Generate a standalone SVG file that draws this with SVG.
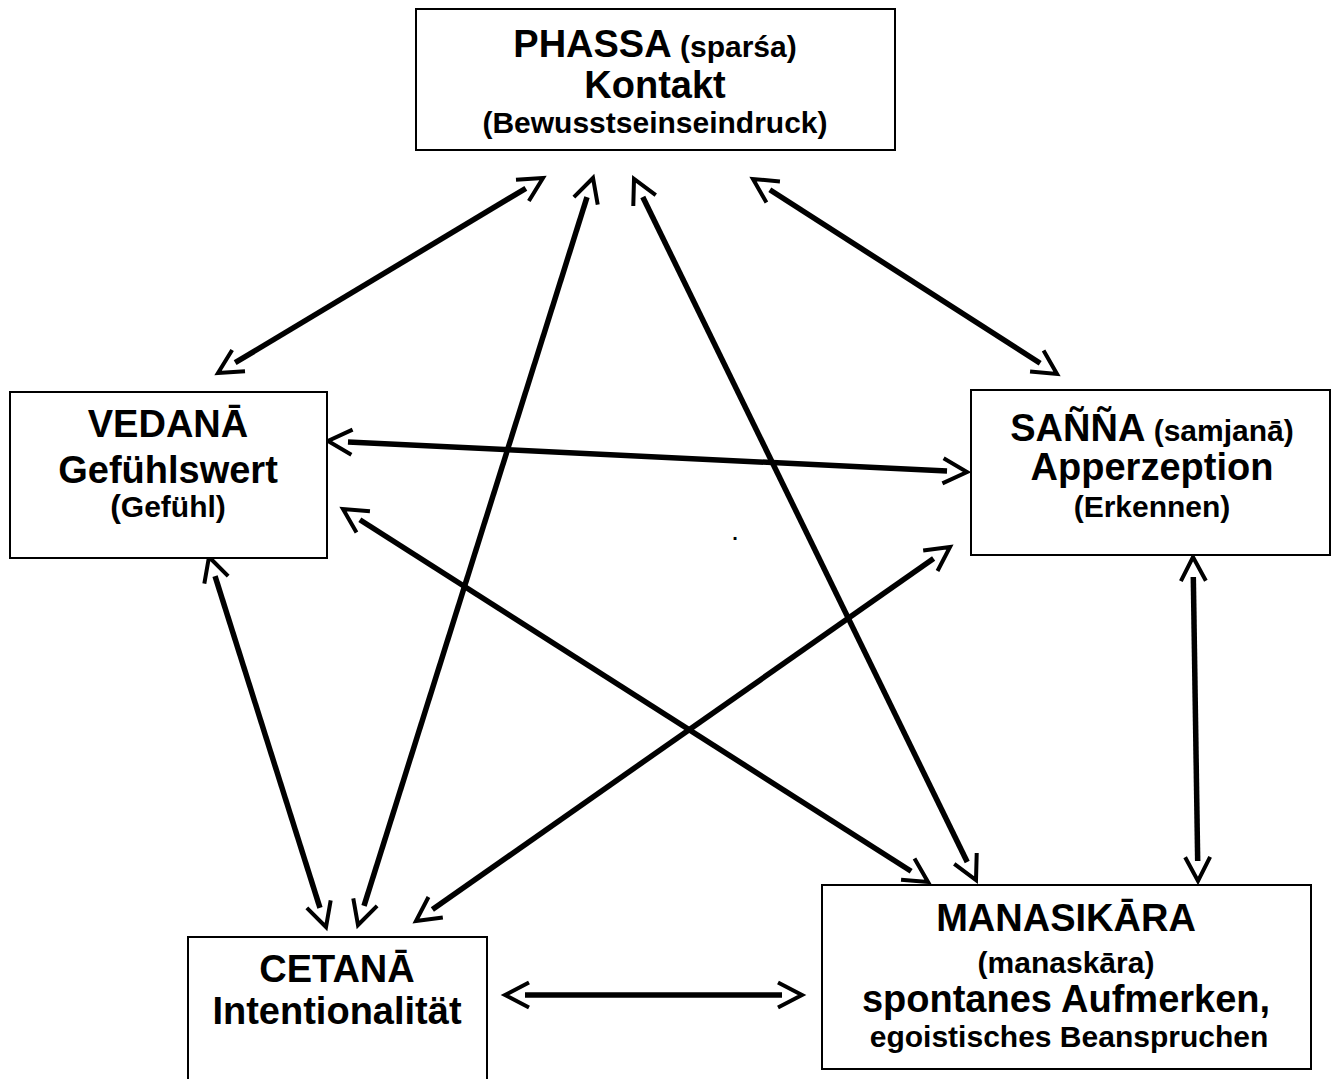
<svg xmlns="http://www.w3.org/2000/svg" width="1334" height="1079" viewBox="0 0 1334 1079">
<style>
.box{fill:#fff;stroke:#000;stroke-width:2}
text{font-family:"Liberation Sans",Arial,sans-serif;font-weight:bold;fill:#000;text-anchor:middle}
.big{font-size:38px}
.sm{font-size:30px}
.conn line{stroke:#000;stroke-width:5.5;marker-start:url(#ah);marker-end:url(#ah)}
</style>
<defs>
<marker id="ah" viewBox="-30 -20 60 40" refX="0" refY="0" markerWidth="60" markerHeight="40" markerUnits="userSpaceOnUse" orient="auto-start-reverse" overflow="visible">
<path d="M -4,-12.5 L 20,0 L -4,12.5" fill="none" stroke="#000" stroke-width="4"/>
</marker>
</defs>
<rect width="1334" height="1079" fill="#fff"/>
<g id="connectors" class="conn">
<line x1="525.85" y1="188.29" x2="235.15" y2="362.71"/>
<line x1="587.0" y1="197.08" x2="364.0" y2="905.92"/>
<line x1="642.77" y1="196.97" x2="967.23" y2="862.03"/>
<line x1="769.83" y1="189.80" x2="1040.17" y2="363.20"/>
<line x1="347.98" y1="441.97" x2="947.02" y2="471.03"/>
<line x1="359.86" y1="519.75" x2="911.14" y2="871.25"/>
<line x1="215.03" y1="576.07" x2="319.97" y2="907.93"/>
<line x1="933.62" y1="558.47" x2="432.38" y2="909.53"/>
<line x1="1193.31" y1="577.0" x2="1197.69" y2="861.0"/>
<line x1="525" y1="995" x2="782" y2="995"/>
</g>
<g id="phassa">
<rect class="box" x="416" y="9" width="479" height="141"/>
<text x="655" y="57"><tspan class="big" font-size="38.5">PHASSA</tspan><tspan class="sm"> (sparśa)</tspan></text>
<text class="big" x="655" y="98" font-size="38.5">Kontakt</text>
<text class="sm" x="655" y="133" font-size="28">(Bewusstseinseindruck)</text>
</g>
<g id="vedana">
<rect class="box" x="10" y="392" width="317" height="166"/>
<text class="big" x="168" y="437" font-size="37">VEDANĀ</text>
<text class="big" x="168" y="483" font-size="37">Gefühlswert</text>
<text class="sm" x="168" y="517" font-size="27"><tspan font-size="32">(</tspan>Gefühl)</text>
</g>
<g id="sanna">
<rect class="box" x="971" y="390" width="359" height="165"/>
<text x="1152" y="441"><tspan class="big">SAÑÑA</tspan><tspan class="sm" font-size="31"> (samjanā)</tspan></text>
<text class="big" x="1152" y="480">Apperzeption</text>
<text class="sm" x="1152" y="517" font-size="32">(Erkennen)</text>
</g>
<g id="cetana">
<rect class="box" x="188" y="937" width="299" height="150"/>
<text class="big" x="337" y="982" font-size="37">CETANĀ</text>
<text class="big" x="337" y="1024" font-size="37">Intentionalität</text>
</g>
<g id="manasikara">
<rect class="box" x="822" y="885" width="489" height="184"/>
<text class="big" x="1066" y="931" font-size="37">MANASIKĀRA</text>
<text class="sm" x="1066" y="973" font-size="31">(manaskāra)</text>
<text class="big" x="1066" y="1012" font-size="37">spontanes Aufmerken,</text>
<text class="sm" x="1069" y="1047" font-size="31.5">egoistisches Beanspruchen</text>
</g>
<text x="735" y="540" font-size="20">.</text>
</svg>
